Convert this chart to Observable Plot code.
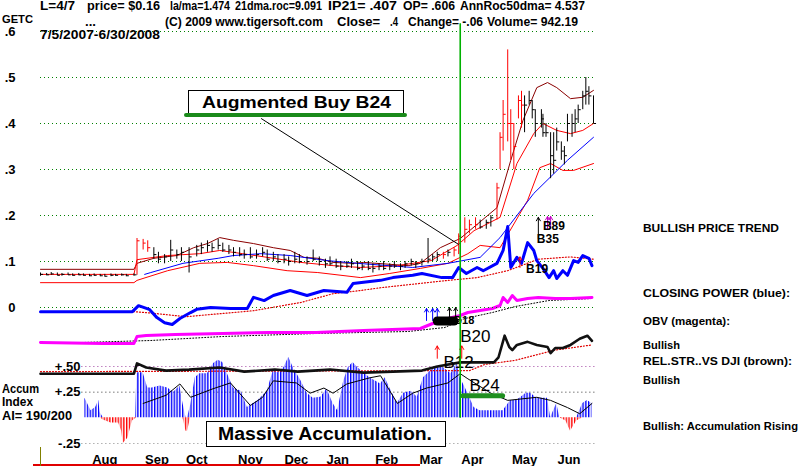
<!DOCTYPE html>
<html><head><meta charset="utf-8">
<script src="https://cdn.jsdelivr.net/npm/d3@7"></script>
<script src="https://cdn.jsdelivr.net/npm/@observablehq/plot@0.6"></script>
<style>
html,body{margin:0;padding:0;background:#fff;}
#wrap{position:relative;width:800px;height:466px;overflow:hidden;font-family:"Liberation Sans",Arial,sans-serif;background:#fff;}
#wrap svg{position:absolute;left:0;top:0;}
.t{position:absolute;white-space:pre;font-weight:bold;line-height:1;color:#000;}
.box{position:absolute;background:#fff;border:1px solid #000;box-sizing:border-box;}
</style></head><body><div id="wrap"></div>
<script>
// ---------------- DATA ----------------
const priceBars = [ // date, high, low, close, colour code
["2007-07-05",.075,.068,.072,"k"],["2007-07-09",.074,.069,.071,"k"],["2007-07-12",.076,.070,.073,"k"],
["2007-07-16",.075,.069,.070,"k"],["2007-07-19",.074,.068,.072,"k"],["2007-07-23",.075,.070,.071,"k"],
["2007-07-26",.073,.068,.070,"k"],["2007-07-30",.074,.069,.071,"k"],["2007-08-02",.073,.068,.070,"k"],
["2007-08-06",.072,.067,.069,"k"],["2007-08-09",.073,.068,.070,"k"],["2007-08-13",.072,.067,.069,"k"],
["2007-08-16",.072,.066,.068,"k"],["2007-08-20",.073,.067,.070,"k"],["2007-08-23",.072,.068,.070,"k"],
["2007-08-27",.073,.068,.071,"k"],["2007-08-30",.072,.067,.069,"k"],["2007-09-04",.073,.068,.071,"k"],
["2007-09-06",.150,.070,.145,"r"],["2007-09-10",.148,.125,.140,"r"],["2007-09-13",.145,.120,.130,"r"],
["2007-09-17",.130,.105,.115,"k"],["2007-09-20",.120,.095,.105,"k"],["2007-09-24",.115,.095,.110,"k"],
["2007-09-28",.146,.100,.125,"k"],["2007-10-02",.125,.105,.115,"k"],["2007-10-05",.130,.100,.120,"k"],
["2007-10-10",.130,.075,.110,"k"],["2007-10-15",.135,.110,.125,"k"],["2007-10-18",.140,.115,.130,"k"],
["2007-10-22",.145,.120,.135,"k"],["2007-10-25",.140,.120,.130,"k"],["2007-10-29",.148,.125,.135,"k"],
["2007-11-01",.140,.120,.125,"k"],["2007-11-05",.135,.115,.125,"k"],["2007-11-08",.130,.110,.120,"k"],
["2007-11-12",.130,.110,.115,"k"],["2007-11-15",.125,.105,.115,"k"],["2007-11-19",.130,.105,.110,"k"],
["2007-11-23",.125,.105,.115,"k"],["2007-11-27",.130,.110,.120,"k"],["2007-11-30",.125,.100,.105,"k"],
["2007-12-04",.120,.100,.110,"k"],["2007-12-07",.115,.095,.100,"k"],["2007-12-11",.115,.095,.105,"k"],
["2007-12-14",.110,.090,.100,"k"],["2007-12-18",.120,.095,.105,"k"],["2007-12-21",.115,.095,.100,"k"],
["2007-12-26",.110,.092,.100,"k"],["2007-12-30",.125,.100,.105,"k"],["2008-01-03",.110,.090,.100,"k"],
["2008-01-07",.105,.085,.095,"k"],["2008-01-10",.110,.090,.095,"k"],["2008-01-14",.105,.085,.090,"k"],
["2008-01-17",.100,.080,.090,"k"],["2008-01-21",.100,.085,.090,"k"],["2008-01-24",.105,.085,.095,"k"],
["2008-01-28",.100,.080,.085,"k"],["2008-01-31",.095,.080,.090,"k"],["2008-02-04",.100,.080,.085,"k"],
["2008-02-07",.095,.075,.085,"k"],["2008-02-11",.095,.080,.090,"k"],["2008-02-14",.100,.080,.085,"k"],
["2008-02-18",.095,.080,.090,"k"],["2008-02-21",.100,.085,.090,"k"],["2008-02-25",.095,.080,.090,"k"],
["2008-02-28",.100,.085,.095,"k"],["2008-03-03",.105,.090,.100,"k"],["2008-03-06",.100,.085,.095,"k"],
["2008-03-10",.105,.090,.100,"k"],["2008-03-14",.150,.095,.105,"k"],["2008-03-17",.115,.100,.110,"k"],
["2008-03-20",.120,.100,.115,"k"],["2008-03-24",.120,.105,.115,"r"],["2008-03-27",.125,.110,.120,"k"],
["2008-03-31",.130,.110,.125,"r"],["2008-04-03",.160,.115,.155,"r"],["2008-04-07",.195,.140,.170,"r"],
["2008-04-10",.190,.160,.180,"r"],["2008-04-14",.195,.170,.180,"r"],["2008-04-17",.190,.170,.175,"k"],
["2008-04-21",.190,.170,.185,"k"],["2008-04-24",.200,.175,.195,"k"],["2008-04-28",.270,.190,.260,"r"],
["2008-04-30",.380,.300,.370,"r"],["2008-05-02",.450,.340,.420,"r"],["2008-05-05",.560,.360,.400,"r"],
["2008-05-07",.430,.320,.400,"r"],["2008-05-09",.400,.300,.350,"r"],["2008-05-12",.460,.410,.450,"r"],
["2008-05-14",.470,.390,.440,"r"],["2008-05-16",.460,.380,.440,"k"],["2008-05-19",.470,.440,.450,"k"],
["2008-05-21",.450,.410,.430,"k"],["2008-05-23",.430,.370,.400,"k"],["2008-05-27",.430,.390,.410,"k"],
["2008-05-28",.420,.370,.380,"k"],["2008-05-30",.400,.370,.380,"k"],["2008-06-02",.380,.280,.330,"k"],
["2008-06-04",.380,.290,.320,"k"],["2008-06-06",.390,.340,.360,"k"],["2008-06-09",.360,.320,.340,"k"],
["2008-06-11",.350,.310,.330,"k"],["2008-06-13",.420,.360,.400,"k"],["2008-06-16",.420,.370,.400,"k"],
["2008-06-18",.430,.380,.410,"k"],["2008-06-20",.440,.400,.430,"k"],["2008-06-23",.470,.430,.460,"k"],
["2008-06-25",.500,.440,.470,"k"],["2008-06-27",.480,.440,.460,"k"],["2008-06-30",.460,.400,.400,"k"]
];
const bandUpper = [["2007-07-05",.083],["2007-09-04",.083],["2007-09-06",.096],["2007-09-17",.107],["2007-10-02",.113],["2007-10-13",.130],["2007-10-22",.139],["2007-10-30",.152],["2007-11-08",.146],["2007-11-21",.139],["2007-12-04",.130],["2007-12-15",.124],["2007-12-24",.109],["2008-01-02",.107],["2008-01-12",.098],["2008-01-25",.096],["2008-02-01",.098],["2008-03-01",.091],["2008-03-09",.096],["2008-03-22",.130],["2008-04-04",.150],["2008-04-28",.217],["2008-05-07",.320],["2008-05-15",.407],["2008-05-24",.478],["2008-05-31",.489],["2008-06-06",.478],["2008-06-15",.454],["2008-06-23",.457],["2008-06-30",.472]];
const bandMid = [["2007-07-05",.072],["2007-09-04",.072],["2007-09-06",.104],["2007-09-26",.113],["2007-10-17",.117],["2007-10-30",.124],["2007-11-14",.117],["2007-12-04",.107],["2007-12-22",.098],["2008-01-12",.091],["2008-01-30",.087],["2008-02-23",.091],["2008-03-16",.102],["2008-04-02",.135],["2008-04-13",.167],["2008-04-30",.196],["2008-05-11",.313],["2008-05-22",.378],["2008-05-28",.400],["2008-06-06",.385],["2008-06-15",.378],["2008-06-23",.385],["2008-06-30",.400]];
const bandLower = [["2007-07-05",.054],["2007-09-04",.054],["2007-09-06",.059],["2007-09-26",.080],["2007-10-17",.096],["2007-11-04",.098],["2007-11-21",.091],["2007-12-13",.080],["2008-01-02",.076],["2008-01-30",.065],["2008-02-18",.074],["2008-03-09",.085],["2008-03-27",.096],["2008-04-09",.117],["2008-04-17",.135],["2008-04-30",.130],["2008-05-18",.233],["2008-05-26",.304],["2008-06-02",.313],["2008-06-10",.298],["2008-06-17",.298],["2008-06-30",.313]];
const ma50 = [["2007-09-11",.072],["2007-09-15",.076],["2007-10-06",.096],["2007-10-29",.107],["2007-11-08",.113],["2007-11-26",.117],["2007-12-15",.113],["2008-01-08",.102],["2008-01-28",.096],["2008-03-04",.087],["2008-03-27",.096],["2008-04-17",.109],["2008-04-30",.152],["2008-05-22",.248],["2008-06-13",.320],["2008-06-30",.370]];
const closingPower = [["2007-07-05",-.009],["2007-07-26",-.009],["2007-09-03",-.009],["2007-09-07",.004],["2007-09-14",-.004],["2007-09-19",-.022],["2007-09-24",-.033],["2007-09-29",-.037],["2007-10-04",-.024],["2007-10-11",-.011],["2007-10-15",-.004],["2007-10-24",0],["2007-11-06",-.002],["2007-11-17",-.002],["2007-11-21",.022],["2007-11-28",.015],["2007-12-04",.026],["2007-12-15",.037],["2007-12-26",.026],["2008-01-06",.037],["2008-01-21",.033],["2008-01-25",.052],["2008-02-12",.059],["2008-02-20",.065],["2008-03-04",.070],["2008-03-10",.074],["2008-03-23",.065],["2008-03-30",.065],["2008-04-03",.087],["2008-04-08",.074],["2008-04-15",.087],["2008-04-19",.080],["2008-04-28",.096],["2008-05-02",.124],["2008-05-05",.176],["2008-05-07",.087],["2008-05-11",.109],["2008-05-14",.096],["2008-05-18",.141],["2008-05-22",.124],["2008-05-24",.102],["2008-05-28",.085],["2008-06-01",.065],["2008-06-04",.080],["2008-06-06",.063],["2008-06-10",.080],["2008-06-13",.070],["2008-06-17",.102],["2008-06-20",.098],["2008-06-23",.113],["2008-06-27",.107],["2008-06-29",.091]];
const closingPowerMA = [["2007-07-05",-.009],["2007-09-04",-.009],["2007-09-15",-.012],["2007-10-08",-.020],["2007-11-21",-.007],["2007-12-22",.011],["2008-01-12",.030],["2008-01-30",.037],["2008-02-12",.043],["2008-03-27",.059],["2008-04-15",.065],["2008-05-05",.080],["2008-05-25",.105],["2008-06-15",.110],["2008-06-30",.105]];
const obv = [["2007-07-05",6],["2007-08-15",4],["2007-09-04",4],["2007-09-06",18],["2007-09-12",20],["2007-10-01",22],["2007-11-01",24],["2007-12-01",26],["2008-01-01",26],["2008-02-01",30],["2008-03-09",34],["2008-03-17",44],["2008-03-27",54],["2008-04-04",60],["2008-04-09",66],["2008-04-17",70],["2008-04-25",74],["2008-04-30",80],["2008-05-02",96],["2008-05-05",86],["2008-05-08",100],["2008-05-11",90],["2008-05-18",94],["2008-05-25",96],["2008-06-05",94],["2008-06-15",94],["2008-06-29",96]];
const obvMA = [["2007-08-01",6],["2007-09-15",10],["2007-11-01",18],["2008-01-01",24],["2008-03-01",28],["2008-03-25",36],["2008-04-07",54],["2008-04-25",66],["2008-05-10",78],["2008-06-01",90],["2008-06-15",92],["2008-06-29",94]];
const relStr = [["2007-07-05",.43],["2007-09-04",.43],["2007-09-06",.53],["2007-09-12",.49],["2007-09-25",.46],["2007-10-10",.47],["2007-10-30",.49],["2007-11-15",.45],["2007-12-05",.47],["2007-12-20",.45],["2008-01-10",.47],["2008-02-01",.44],["2008-02-20",.45],["2008-03-10",.46],["2008-03-20",.50],["2008-04-04",.54],["2008-04-26",.54],["2008-04-29",.59],["2008-05-03",.80],["2008-05-06",.69],["2008-05-08",.66],["2008-05-11",.71],["2008-05-18",.74],["2008-05-24",.71],["2008-05-31",.69],["2008-06-02",.63],["2008-06-05",.68],["2008-06-10",.68],["2008-06-15",.71],["2008-06-21",.77],["2008-06-26",.80],["2008-06-29",.75]];
const relStrMA = [["2007-07-05",.45],["2008-04-10",.46],["2008-04-20",.52],["2008-05-10",.56],["2008-06-05",.66],["2008-06-29",.71]];
const accumIndex = [["2007-08-03",.19],["2007-08-07",.07],["2007-08-10",.10],["2007-08-12",.17],["2007-08-13",.05],["2007-08-15",-.02],["2007-08-20",-.05],["2007-08-25",-.05],["2007-08-27",-.13],["2007-08-28",-.25],["2007-08-31",-.20],["2007-09-03",-.03],["2007-09-05",-.01],["2007-09-06",.44],["2007-09-10",.44],["2007-09-13",.29],["2007-09-16",.29],["2007-09-21",.31],["2007-09-26",.29],["2007-09-30",.25],["2007-10-04",.31],["2007-10-06",.14],["2007-10-08",-.13],["2007-10-09",-.13],["2007-10-11",.12],["2007-10-14",.39],["2007-10-17",.43],["2007-10-22",.43],["2007-10-26",.53],["2007-10-29",.56],["2007-11-01",.54],["2007-11-04",.43],["2007-11-08",.29],["2007-11-13",.26],["2007-11-17",.10],["2007-11-24",.17],["2007-11-30",.26],["2007-12-04",.46],["2007-12-07",.44],["2007-12-11",.49],["2007-12-14",.59],["2007-12-17",.49],["2007-12-22",.36],["2007-12-26",.24],["2007-12-30",.19],["2008-01-04",.20],["2008-01-08",.28],["2008-01-12",.14],["2008-01-15",.07],["2008-01-19",.36],["2008-01-22",.49],["2008-01-25",.54],["2008-01-28",.49],["2008-02-01",.44],["2008-02-05",.39],["2008-02-12",.33],["2008-02-15",.39],["2008-02-18",.29],["2008-02-23",.14],["2008-02-27",.24],["2008-03-03",.26],["2008-03-07",.20],["2008-03-11",.39],["2008-03-16",.46],["2008-03-20",.49],["2008-03-24",.49],["2008-03-29",.43],["2008-04-02",.53],["2008-04-04",.39],["2008-04-09",.24],["2008-04-13",.10],["2008-04-17",.07],["2008-04-24",.07],["2008-05-02",.07],["2008-05-07",.17],["2008-05-11",.17],["2008-05-17",.24],["2008-05-20",.24],["2008-05-24",.19],["2008-05-31",.19],["2008-06-02",0],["2008-06-06",.14],["2008-06-08",0],["2008-06-12",-.03],["2008-06-15",-.13],["2008-06-19",-.03],["2008-06-23",.14],["2008-06-26",.17],["2008-06-29",.14]];
const accumMA = [["2007-09-10",.14],["2007-09-25",.22],["2007-10-04",.33],["2007-10-11",.20],["2007-10-25",.28],["2007-11-06",.34],["2007-11-19",.12],["2007-11-27",.20],["2007-12-04",.36],["2007-12-19",.34],["2007-12-28",.24],["2008-01-06",.29],["2008-01-12",.24],["2008-01-21",.33],["2008-02-05",.39],["2008-02-12",.41],["2008-02-23",.14],["2008-03-04",.24],["2008-03-13",.29],["2008-03-27",.34],["2008-04-04",.43],["2008-04-09",.38],["2008-04-24",.24],["2008-05-05",.17],["2008-05-24",.20],["2008-06-02",.17],["2008-06-13",.10],["2008-06-21",.04],["2008-06-29",.14]];
const priceTicks = [.6,.5,.4,.3,.2,.1,0];
const priceTickLabels = [".6",".5",".4",".3",".2",".1","0"];
const accumTicks = [.5,.25,-.25];
const accumTickLabels = ["+.50","+.25","-.25"];
const monthTicks = ["2007-08-16","2007-09-19","2007-10-15","2007-11-19","2007-12-19","2008-01-15","2008-02-16","2008-03-16","2008-04-12","2008-05-16","2008-06-14"];
const signalDate = "2008-04-04";
const priceSignals = [["2008-05-24",.148,"B35"],["2008-05-17",.083,"B19"],["2008-05-28",.177,"B89"]];
const priceArrows = [["2008-05-13",.087,.110,"#ff0000"],["2008-05-25",.150,.196,"#000000"],["2008-05-31",.172,.198,"#c000c0"],["2008-06-02",.172,.198,"#c000c0"]];
const obvArrows = [["2008-03-13",50,74,"#0000ff"],["2008-03-17",50,74,"#0000ff"],["2008-03-20",50,74,"#0000ff"],["2008-03-28",54,76,"#000000"],["2008-04-01",54,76,"#000000"]];
const obvBlob = [["2008-03-20",49],["2008-03-31",49]];
const obvSignals = [["2008-03-31",50,"B18"]];
const accumArrows = [["2008-03-20",.58,.70,"#ff0000"],["2008-04-05",.58,.70,"#ff0000"]];
const accumSignals = [["2008-03-24",.54,"B12"],["2008-04-10",.31,"B24"]];

// ---------------- BUILD ----------------
const D = s => new Date(s + "T00:00:00Z");
const rows = a => a.map(([d, v]) => ({date: D(d), v}));
const bars = priceBars.map(([d, h, l, c, k]) => ({date: D(d), high: h, low: l, close: c, k}));
const xDomain = [D("2007-07-05"), D("2008-06-30")];
const gridEnd = D("2008-07-01");
const font = "'Liberation Sans', Arial, sans-serif";
const base = {width: 800, height: 466, marginLeft: 40, marginRight: 207, marginTop: 0, marginBottom: 20,
  style: {background: "transparent", fontFamily: font}, color: {type: "identity"}};
const wrap = document.getElementById("wrap");

// accumulation panel (below everything else)
const accRows = rows(accumIndex);
const svgC = Plot.plot({...base,
  x: {type: "utc", domain: xDomain, axis: null},
  y: {domain: [-.25, .5], range: [443, 366]},
  marks: [
    Plot.ruleY([.5], {x1: () => D("2007-08-01"), x2: () => gridEnd, stroke: "#a040a0", strokeDasharray: "1,3"}),
    Plot.ruleY([.25], {x1: () => D("2007-08-01"), x2: () => gridEnd, stroke: "#333", strokeDasharray: "1,3"}),
    Plot.ruleY([-.25], {x1: () => D("2007-08-01"), x2: () => gridEnd, stroke: "#888", strokeDasharray: "1,3"}),
    Plot.areaY(accRows, {x: "date", y1: 0, y2: d => Math.max(0, d.v), fill: "url(#accBlue)"}),
    Plot.areaY(accRows, {x: "date", y1: 0, y2: d => Math.min(0, d.v), fill: "url(#accRed)"}),
    Plot.line(rows(accumMA), {x: "date", y: "v", stroke: "#000", strokeWidth: 1}),
    Plot.line(rows(relStrMA), {x: "date", y: "v", stroke: "#e00000", strokeWidth: 1.2, strokeDasharray: "1,2"}),
    Plot.line(rows(relStr), {x: "date", y: "v", stroke: "#111", strokeWidth: 2.6}),
    Plot.ruleY([.216], {x1: () => D("2008-04-06"), x2: () => D("2008-05-02"), stroke: "#1f8f1f", strokeWidth: 5, strokeLinecap: "round"}),
    Plot.arrow(accumArrows.map(([d, a, b, c]) => ({date: D(d), a, b, c})), {x1: "date", x2: "date", y1: "a", y2: "b", stroke: "c", headLength: 6, strokeWidth: 1}),
    Plot.text(accumSignals.map(([d, v, t]) => ({date: D(d), v, t})), {x: "date", y: "v", text: "t", textAnchor: "start", fontSize: 17, fill: "#000"}),
    Plot.axisY({ticks: accumTicks, tickFormat: d => accumTickLabels[accumTicks.indexOf(d)], tickSize: 0, tickPadding: 0, dx: 40, fontSize: 13, fontWeight: "bold", label: null})
  ]
});
d3.select(svgC).insert("defs", ":first-child").html(
  '<pattern id="accBlue" width="2.8" height="6" patternUnits="userSpaceOnUse"><rect x="0" y="0" width="1.4" height="6" fill="#0000ff"/></pattern>' +
  '<pattern id="accRed" width="2.8" height="6" patternUnits="userSpaceOnUse"><rect x="0" y="0" width="1.4" height="6" fill="#ff0000"/></pattern>');
wrap.appendChild(svgC);

// OBV panel
const blobRows = obvBlob.map(([d, v]) => ({date: D(d), v}));
const svgB = Plot.plot({...base,
  x: {type: "utc", domain: xDomain, axis: null},
  y: {domain: [0, 100], range: [345, 295], axis: null},
  marks: [
    Plot.line(rows(obvMA), {x: "date", y: "v", stroke: "#000", strokeWidth: 1, strokeDasharray: "1,2"}),
    Plot.line(rows(obv), {x: "date", y: "v", stroke: "#ff00ff", strokeWidth: 3}),
    Plot.arrow(obvArrows.map(([d, a, b, c]) => ({date: D(d), a, b, c})), {x1: "date", x2: "date", y1: "a", y2: "b", stroke: "c", headLength: 6, strokeWidth: 1}),
    Plot.line(blobRows, {x: "date", y: "v", stroke: "#000", strokeWidth: 9}),
    Plot.text(obvSignals.map(([d, v, t]) => ({date: D(d), v, t})), {x: "date", y: "v", text: "t", textAnchor: "start", fontSize: 11, fontWeight: "bold", fill: "#000"}),
    Plot.text([{date: D("2008-04-04"), v: 18, t: "B20"}], {x: "date", y: "v", text: "t", textAnchor: "start", fontSize: 17, fill: "#000"})
  ]
});
wrap.appendChild(svgB);

// price panel
const svgA = Plot.plot({...base,
  x: {type: "utc", domain: xDomain},
  y: {domain: [0, .6], range: [307, 31]},
  marks: [
    Plot.ruleY(priceTicks, {x1: () => xDomain[0], x2: () => gridEnd, stroke: "#008000", strokeDasharray: "1,3"}),
    Plot.line(rows(bandUpper), {x: "date", y: "v", stroke: "#8b0000", strokeWidth: 1}),
    Plot.line(rows(bandMid), {x: "date", y: "v", stroke: "#ff0000", strokeWidth: 1}),
    Plot.line(rows(bandLower), {x: "date", y: "v", stroke: "#ff0000", strokeWidth: 1}),
    Plot.line(rows(ma50), {x: "date", y: "v", stroke: "#0000ff", strokeWidth: 1}),
    Plot.line(rows(closingPowerMA), {x: "date", y: "v", stroke: "#e00000", strokeWidth: 1.2, strokeDasharray: "1,2"}),
    Plot.line(rows(closingPower), {x: "date", y: "v", stroke: "#0000ff", strokeWidth: 3}),
    Plot.ruleX(bars, {x: "date", y1: "low", y2: "high", stroke: d => d.k === "r" ? "#ff0000" : "#000000", strokeWidth: 1}),
    Plot.link(bars, {x1: "date", x2: d => d3.utcHour.offset(d.date, 40), y1: "close", y2: "close", stroke: d => d.k === "r" ? "#ff0000" : "#000000", strokeWidth: 1}),
    Plot.link([{a: D("2007-11-26"), b: D("2008-04-03"), ya: .411, yb: .137}], {x1: "a", x2: "b", y1: "ya", y2: "yb", stroke: "#000", strokeWidth: 1}),
    Plot.ruleX([D(signalDate)], {y1: -.241, y2: .617, stroke: "#00b000", strokeWidth: 1.6}),
    Plot.arrow(priceArrows.map(([d, a, b, c]) => ({date: D(d), a, b, c})), {x1: "date", x2: "date", y1: "a", y2: "b", stroke: "c", headLength: 6, strokeWidth: 1}),
    Plot.text(priceSignals.map(([d, v, t]) => ({date: D(d), v, t})), {x: "date", y: "v", text: "t", textAnchor: "start", fontSize: 12, fontWeight: "bold", fill: "#000"}),
    Plot.axisY({ticks: priceTicks, tickFormat: d => priceTickLabels[priceTicks.indexOf(d)], tickSize: 0, tickPadding: 25, fontSize: 13, fontWeight: "bold", label: null}),
    Plot.axisX({ticks: monthTicks.map(D), tickFormat: d3.utcFormat("%b"), tickSize: 0, tickPadding: 8, fontSize: 13, fontWeight: "bold", label: null})
  ]
});
wrap.appendChild(svgA);

// ---------------- TEXT / FRAMES ----------------
function box(x, y, w, h) {
  const b = document.createElement("div"); b.className = "box";
  Object.assign(b.style, {left: x + "px", top: y + "px", width: w + "px", height: h + "px"});
  wrap.appendChild(b); return b;
}
function deco(x, y, w, h, bg, r) {
  const b = document.createElement("div");
  Object.assign(b.style, {position: "absolute", left: x + "px", top: y + "px", width: w + "px", height: h + "px", background: bg, borderRadius: (r || 0) + "px"});
  wrap.appendChild(b);
}
function txt(s, x, yc, size, width, weight) {
  const el = document.createElement("div"); el.className = "t"; el.textContent = s;
  el.style.left = x + "px"; el.style.fontSize = size + "px"; el.style.top = (yc - size * 0.49) + "px";
  if (weight) el.style.fontWeight = weight;
  wrap.appendChild(el);
  if (width) { const w = el.getBoundingClientRect().width; el.style.transformOrigin = "0 50%"; el.style.transform = `scaleX(${width / w})`; }
}
// header
txt("L=4/7", 40, 6, 12, 35); txt("price= $0.16", 87, 6, 12, 73); txt("la/ma=1.474", 170, 6, 12, 60);
txt("21dma.roc=9.091", 235, 6, 12, 87); txt("IP21= .407", 328, 6, 12, 69);
txt("OP= .606", 403, 6, 12, 52); txt("AnnRoc50dma= 4.537", 460, 6, 12, 125);
txt("GETC", 2, 20, 11.5, 31); txt("...", 85, 22, 12, 11);
txt("(C) 2009 www.tigersoft.com", 165, 22, 12, 158); txt("Close=", 337, 22, 12, 43); txt(".4", 390, 22, 12, 8);
txt("Change= -.06", 408, 22, 12, 75); txt("Volume= 942.19", 487, 22, 12, 91);
txt("7/5/2007-6/30/2008", 40, 35, 12, 120);
// right-hand notes
txt("BULLISH PRICE TREND", 643, 229, 11.5, 136);
txt("CLOSING POWER (blue):", 643, 294, 11.5, 147);
txt("OBV (magenta):", 643, 322, 11.5, 87); txt("Bullish", 643, 346, 11.5, 37);
txt("REL.STR..VS DJI (brown):", 643, 362, 11.5, 149); txt("Bullish", 643, 381, 11.5, 37);
txt("Bullish: Accumulation Rising", 643, 427, 11.5, 155);
// left notes
txt("Accum", 2, 389, 12.5, 37); txt("Index", 2, 402, 12.5, 31); txt("AI= 190/200", 2, 416, 12.5, 70);
// annotation boxes
box(188, 90, 216, 24); deco(184, 113, 223, 4, "#1a8a1a", 2);
txt("Augmented Buy B24", 202, 102, 17, 189);
box(206, 421, 240, 26);
txt("Massive Accumulation.", 218, 434, 18, 214);
// bottom decorations
deco(33, 464, 387, 2, "#e00000"); deco(40, 447, 1, 19, "#808000");
</script></body></html>
